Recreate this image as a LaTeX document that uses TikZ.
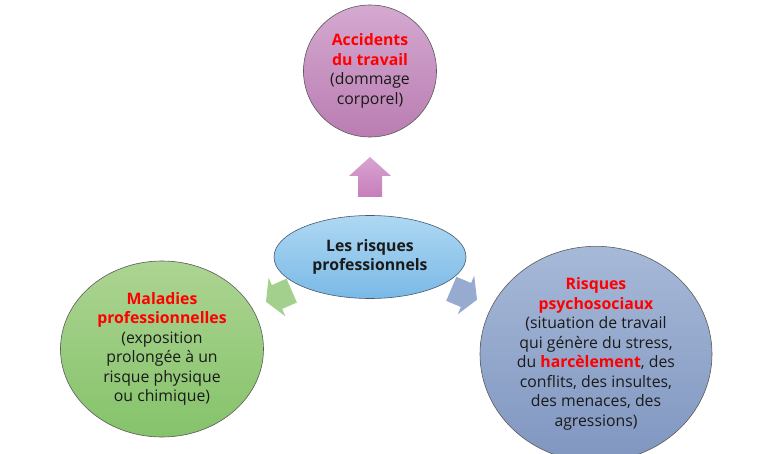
\documentclass[tikz,border=0pt]{standalone}
\usepackage{fontspec}
\setmainfont{Open Sans}
\usetikzlibrary{shapes.geometric}
\definecolor{txt}{HTML}{1A1A1A}
\definecolor{rd}{HTML}{FF0000}
\definecolor{edge}{HTML}{5A5A5A}
\tikzset{
  bubble/.style={ellipse, draw=edge, line width=0.6pt, inner sep=0pt, align=center,
    text=txt, font=\fontsize{15.8}{19.5}\selectfont},
}
\newcommand{\hl}[1]{\textcolor{rd}{\textbf{#1}}}
\begin{document}
\begin{tikzpicture}[x=1pt,y=-1pt]
\useasboundingbox (0,0) rectangle (768,454);
\fill[white] (0,0) rectangle (768,454);
% top circle
\node[bubble, minimum width=133pt, minimum height=132pt,
  top color={rgb,255:red,212;green,169;blue,208}, bottom color={rgb,255:red,186;green,125;blue,178}]
  (acc) at (370,71) {\hl{Accidents}\\\hl{du travail}\\(dommage\\corporel)};
% centre ellipse
\node[bubble, minimum width=192pt, minimum height=83pt, draw={rgb,255:red,70;green,90;blue,110},
  top color={rgb,255:red,174;green,216;blue,243}, bottom color={rgb,255:red,122;green,185;blue,230}]
  (ctr) at (370,257) {\textbf{Les risques}\\\textbf{professionnels}};
% left circle
\node[bubble, minimum width=203pt, minimum height=176pt,
  top color={rgb,255:red,172;green,212;blue,146}, bottom color={rgb,255:red,133;green,195;blue,106}]
  (mal) at (162,349) {\hl{Maladies}\\\hl{professionnelles}\\(exposition\\prolongée à un\\risque physique\\ou chimique)};
% right circle
\node[bubble, minimum width=232pt, minimum height=185pt,
  top color={rgb,255:red,167;green,185;blue,216}, bottom color={rgb,255:red,128;green,150;blue,192}]
  (rps) at (596,354) {\hl{Risques}\\\hl{psychosociaux}\\(situation de travail\\qui génère du stress,\\du \hl{harcèlement}, des\\conflits, des insultes,\\des menaces, des\\agressions)};
% up arrow
\shade[top color={rgb,255:red,216;green,164;blue,208}, bottom color={rgb,255:red,198;green,126;blue,187}]
  (370,157) -- (391,176) -- (382,176) -- (382,197) -- (358,197) -- (358,176) -- (349,176) -- cycle;
% green arrow (towards left circle)
\fill[fill={rgb,255:red,163;green,209;blue,141}]
  (266,301.8) -- (268.6,277.7) -- (271.8,285.1) -- (286.5,278.7) -- (296.9,302.5) -- (282.2,308.9) -- (285.4,316.3) -- cycle;
% blue arrow (towards right circle)
\fill[fill={rgb,255:red,150;green,171;blue,207}]
  (477,299.7) -- (457.8,314.3) -- (460.9,307) -- (446.2,300.8) -- (456.4,276.8) -- (471.1,283) -- (474.2,275.7) -- cycle;
\end{tikzpicture}
\end{document}
